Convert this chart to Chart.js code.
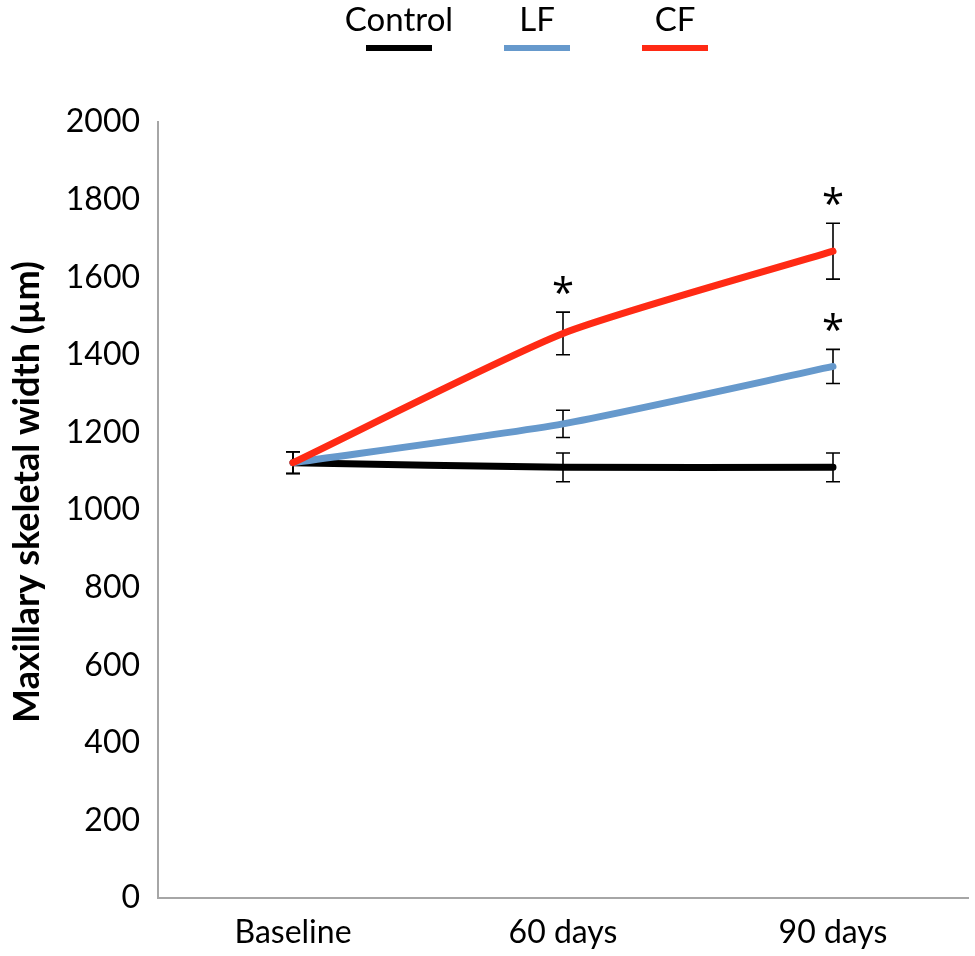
<!DOCTYPE html>
<html>
<head>
<meta charset="utf-8">
<script src="https://cdn.jsdelivr.net/npm/chart.js@4/dist/chart.umd.min.js"></script>
<style>
  html, body { margin: 0; padding: 0; background: #fff; }
  #wrap { width: 975px; height: 956px; }
</style>
</head>
<body>
<div id="wrap"><canvas id="chart" width="975" height="956"></canvas></div>
<script>
// values
const categories = ['Baseline', '60 days', '90 days'];
const seriesNames = ['Control', 'LF', 'CF'];
const controlValues = [1122, 1110, 1110];
const lfValues = [1122, 1222, 1370];
const cfValues = [1122, 1455, 1667];
const controlErrors = [28, 37, 37];
const lfErrors = [28, 35, 44];
const cfErrors = [28, 55, 72];
// significance marks (*) per point
const controlStars = [false, false, false];
const lfStars = [false, false, true];
const cfStars = [false, true, true];
const yTicks = [0, 200, 400, 600, 800, 1000, 1200, 1400, 1600, 1800, 2000];
const yTitle = 'Maxillary skeletal width (µm)';

const colors = ['#000000', '#6699cc', '#ff2a14'];
const FONT = 'Lato, "Open Sans", sans-serif';

const ctx = document.getElementById('chart').getContext('2d');

// error bars with caps, drawn under the lines
const errorBars = {
  id: 'errorBars',
  beforeDatasetsDraw(chart) {
    const c = chart.ctx;
    const y = chart.scales.y;
    c.save();
    c.strokeStyle = '#000';
    c.lineWidth = 1.6;
    chart.data.datasets.forEach((ds, i) => {
      const meta = chart.getDatasetMeta(i);
      meta.data.forEach((pt, j) => {
        const err = ds.errors[j];
        const top = y.getPixelForValue(ds.data[j] + err);
        const bot = y.getPixelForValue(ds.data[j] - err);
        c.beginPath();
        c.moveTo(pt.x, top); c.lineTo(pt.x, bot);
        c.moveTo(pt.x - 7, top); c.lineTo(pt.x + 7, top);
        c.moveTo(pt.x - 7, bot); c.lineTo(pt.x + 7, bot);
        c.stroke();
      });
    });
    c.restore();
  },
  afterDatasetsDraw(chart) {
    const c = chart.ctx;
    const y = chart.scales.y;
    c.save();
    c.fillStyle = '#000';
    c.font = '40px "Open Sans", sans-serif';
    c.textAlign = 'center';
    c.textBaseline = 'middle';
    chart.data.datasets.forEach((ds, i) => {
      const meta = chart.getDatasetMeta(i);
      meta.data.forEach((pt, j) => {
        if (!ds.stars[j]) return;
        const top = y.getPixelForValue(ds.data[j] + ds.errors[j]);
        c.fillText('*', pt.x, top - 17);
      });
    });
    c.restore();
  }
};

// legend: name above a short line sample, plus the y title
const topLegend = {
  id: 'topLegend',
  afterDraw(chart) {
    const c = chart.ctx;
    const centerX = 537, step = 138, lineW = 66;
    c.save();
    c.font = '33px ' + FONT;
    c.textAlign = 'center';
    c.textBaseline = 'middle';
    seriesNames.forEach((name, i) => {
      const x = centerX + (i - 1) * step;
      c.fillStyle = '#000';
      c.fillText(name, x, 20);
      c.fillStyle = colors[i];
      c.fillRect(x - lineW / 2, 45, lineW, 6);
    });
    c.translate(27, 492);
    c.rotate(-Math.PI / 2);
    c.fillStyle = '#000';
    c.font = 'bold 36px ' + FONT;
    c.fillText(yTitle, 0, 0);
    c.restore();
  }
};

const datasets = [
  { label: seriesNames[0], data: controlValues, errors: controlErrors, stars: controlStars, borderColor: colors[0], order: 3 },
  { label: seriesNames[1], data: lfValues, errors: lfErrors, stars: lfStars, borderColor: colors[1], order: 2 },
  { label: seriesNames[2], data: cfValues, errors: cfErrors, stars: cfStars, borderColor: colors[2], order: 1 }
].map(d => Object.assign(d, { borderWidth: 7, pointRadius: 0, tension: 0.2, fill: false, borderCapStyle: 'round' }));

new Chart(ctx, {
  type: 'line',
  data: { labels: categories, datasets },
  options: {
    responsive: false,
    animation: false,
    devicePixelRatio: 1,
    layout: { padding: { top: 122, right: 7, left: 0, bottom: 0 } },
    plugins: { legend: { display: false }, tooltip: { enabled: false } },
    scales: {
      x: {
        offset: true,
        grid: { display: false, drawTicks: false },
        border: { color: '#a6a6a6', width: 2 },
        ticks: { color: '#000', font: { family: FONT, size: 32 }, padding: 15 },
        afterFit(s) { s.height = 58; }
      },
      y: {
        min: 0,
        max: 2000,
        afterBuildTicks(s) { s.ticks = yTicks.map(v => ({ value: v })); },
        grid: { display: false, drawTicks: false },
        border: { color: '#a6a6a6', width: 2 },
        ticks: { color: '#000', font: { family: FONT, size: 32 }, padding: 18, callback: v => String(v) },
        afterFit(s) { s.width = 158; }
      }
    }
  },
  plugins: [errorBars, topLegend]
});
</script>
</body>
</html>
